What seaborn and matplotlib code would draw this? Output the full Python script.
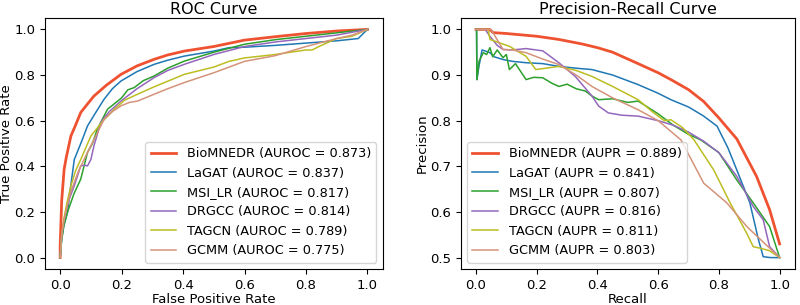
import matplotlib
matplotlib.use("Agg")
import matplotlib.pyplot as plt
import seaborn as sns
import pandas as pd

# model names, scores and colours
models = ["BioMNEDR", "LaGAT", "MSI_LR", "DRGCC", "TAGCN", "GCMM"]
auroc = [0.873, 0.837, 0.817, 0.814, 0.789, 0.775]
aupr = [0.889, 0.841, 0.807, 0.816, 0.811, 0.803]
colors = ["#ef5230", "#1f77b4", "#2ca02c", "#9467bd", "#bcbd22", "#d4937a"]

# ROC curves (fpr, tpr)
roc_fpr = {
    "BioMNEDR": [0, 0.0, 0.005, 0.013, 0.02, 0.035, 0.05, 0.067, 0.09, 0.11, 0.15, 0.198, 0.25, 0.306, 0.35, 0.404, 0.5, 0.6, 0.7, 0.8, 0.9, 1.0],
    "LaGAT": [0, 0.005, 0.012, 0.024, 0.035, 0.046, 0.07, 0.089, 0.12, 0.143, 0.17, 0.198, 0.25, 0.306, 0.35, 0.404, 0.5, 0.55, 0.6, 0.7, 0.8, 0.9, 0.97, 1.0],
    "MSI_LR": [0, 0.005, 0.012, 0.024, 0.045, 0.067, 0.089, 0.105, 0.121, 0.154, 0.2, 0.22, 0.241, 0.27, 0.306, 0.35, 0.404, 0.5, 0.6, 0.7, 0.8, 0.9, 1.0],
    "DRGCC": [0, 0.005, 0.012, 0.025, 0.046, 0.067, 0.078, 0.089, 0.1, 0.11, 0.132, 0.16, 0.198, 0.25, 0.306, 0.35, 0.404, 0.5, 0.6, 0.7, 0.8, 0.9, 1.0],
    "TAGCN": [0, 0.005, 0.012, 0.022, 0.035, 0.05, 0.067, 0.1, 0.14, 0.176, 0.21, 0.252, 0.3, 0.404, 0.5, 0.55, 0.6, 0.7, 0.8, 0.82, 0.85, 0.9, 0.95, 1.0],
    "GCMM": [0, 0.005, 0.012, 0.022, 0.035, 0.06, 0.089, 0.115, 0.143, 0.17, 0.198, 0.225, 0.252, 0.306, 0.35, 0.404, 0.5, 0.6, 0.7, 0.8, 0.9, 0.95, 1.0],
}
roc_tpr = {
    "BioMNEDR": [0, 0.05, 0.25, 0.388, 0.44, 0.533, 0.58, 0.636, 0.675, 0.708, 0.755, 0.803, 0.84, 0.869, 0.888, 0.905, 0.925, 0.953, 0.968, 0.982, 0.993, 1.0],
    "LaGAT": [0, 0.08, 0.14, 0.2, 0.32, 0.43, 0.51, 0.577, 0.645, 0.694, 0.74, 0.774, 0.815, 0.847, 0.865, 0.883, 0.905, 0.92, 0.922, 0.93, 0.94, 0.95, 0.96, 1.0],
    "MSI_LR": [0, 0.08, 0.14, 0.2, 0.28, 0.344, 0.461, 0.5, 0.563, 0.65, 0.7, 0.735, 0.745, 0.775, 0.796, 0.83, 0.861, 0.9, 0.935, 0.955, 0.97, 0.985, 1.0],
    "DRGCC": [0, 0.1, 0.16, 0.24, 0.315, 0.402, 0.405, 0.402, 0.43, 0.49, 0.592, 0.64, 0.686, 0.74, 0.789, 0.82, 0.847, 0.89, 0.925, 0.945, 0.96, 0.975, 1.0],
    "TAGCN": [0, 0.1, 0.17, 0.24, 0.315, 0.38, 0.43, 0.533, 0.6, 0.65, 0.69, 0.716, 0.745, 0.803, 0.835, 0.86, 0.875, 0.89, 0.91, 0.91, 0.93, 0.96, 0.97, 1.0],
    "GCMM": [0, 0.1, 0.16, 0.22, 0.29, 0.38, 0.461, 0.53, 0.606, 0.64, 0.665, 0.68, 0.686, 0.716, 0.74, 0.767, 0.81, 0.86, 0.885, 0.925, 0.96, 0.975, 1.0],
}

# precision-recall curves (recall, precision)
pr_rec = {
    "BioMNEDR": [0, 0.045, 0.056, 0.1, 0.2, 0.273, 0.35, 0.4, 0.45, 0.534, 0.6, 0.642, 0.7, 0.75, 0.8, 0.859, 0.924, 0.967, 1.0],
    "LaGAT": [0, 0.002, 0.003, 0.01, 0.02, 0.046, 0.06, 0.089, 0.12, 0.165, 0.22, 0.273, 0.33, 0.382, 0.45, 0.534, 0.6, 0.642, 0.7, 0.75, 0.794, 0.83, 0.859, 0.902, 0.93, 0.946, 0.97, 1.0],
    "MSI_LR": [0, 0.002, 0.003, 0.01, 0.024, 0.035, 0.046, 0.055, 0.07, 0.089, 0.1, 0.11, 0.13, 0.15, 0.165, 0.19, 0.22, 0.25, 0.273, 0.3, 0.33, 0.36, 0.382, 0.404, 0.45, 0.5, 0.534, 0.6, 0.65, 0.7, 0.74, 0.8, 0.859, 0.913, 0.967, 1.0],
    "DRGCC": [0, 0.03, 0.046, 0.07, 0.089, 0.12, 0.165, 0.22, 0.273, 0.327, 0.382, 0.404, 0.436, 0.48, 0.534, 0.6, 0.65, 0.7, 0.75, 0.8, 0.859, 0.913, 0.946, 0.967, 1.0],
    "TAGCN": [0, 0.04, 0.046, 0.08, 0.11, 0.165, 0.197, 0.23, 0.273, 0.33, 0.382, 0.45, 0.534, 0.58, 0.62, 0.642, 0.68, 0.718, 0.783, 0.837, 0.892, 0.913, 0.94, 0.967, 1.0],
    "GCMM": [0, 0.05, 0.056, 0.089, 0.12, 0.165, 0.22, 0.273, 0.33, 0.382, 0.45, 0.534, 0.6, 0.675, 0.75, 0.826, 0.892, 1.0],
}
pr_prec = {
    "BioMNEDR": [1.0, 1.0, 0.993, 0.991, 0.985, 0.978, 0.968, 0.96, 0.95, 0.925, 0.905, 0.89, 0.868, 0.842, 0.806, 0.76, 0.678, 0.605, 0.53],
    "LaGAT": [1.0, 1.0, 0.89, 0.92, 0.955, 0.949, 0.94, 0.934, 0.93, 0.927, 0.925, 0.919, 0.915, 0.912, 0.9, 0.879, 0.86, 0.846, 0.83, 0.81, 0.788, 0.74, 0.692, 0.62, 0.54, 0.502, 0.5, 0.5],
    "MSI_LR": [1.0, 1.0, 0.89, 0.93, 0.949, 0.945, 0.96, 0.94, 0.955, 0.938, 0.945, 0.912, 0.925, 0.905, 0.89, 0.895, 0.894, 0.882, 0.875, 0.88, 0.87, 0.865, 0.854, 0.846, 0.848, 0.84, 0.843, 0.815, 0.79, 0.77, 0.758, 0.73, 0.67, 0.62, 0.568, 0.5],
    "DRGCC": [1.0, 1.0, 0.985, 0.965, 0.956, 0.955, 0.958, 0.953, 0.927, 0.897, 0.854, 0.832, 0.817, 0.812, 0.81, 0.8, 0.79, 0.775, 0.755, 0.73, 0.678, 0.612, 0.583, 0.524, 0.5],
    "TAGCN": [1.0, 1.0, 0.978, 0.97, 0.963, 0.941, 0.912, 0.915, 0.919, 0.91, 0.897, 0.875, 0.846, 0.82, 0.8, 0.802, 0.785, 0.758, 0.692, 0.62, 0.553, 0.524, 0.52, 0.515, 0.5],
    "GCMM": [1.0, 1.0, 0.993, 0.956, 0.955, 0.949, 0.935, 0.923, 0.9, 0.875, 0.85, 0.824, 0.8, 0.758, 0.663, 0.62, 0.568, 0.5],
}

rows = []
for m in models:
    for x, y in zip(roc_fpr[m], roc_tpr[m]):
        rows.append({"curve": "roc", "model": m, "x": x, "y": y})
    for x, y in zip(pr_rec[m], pr_prec[m]):
        rows.append({"curve": "pr", "model": m, "x": x, "y": y})
df = pd.DataFrame(rows)

plt.rcParams["font.size"] = 9.5
fig = plt.figure(figsize=(8, 3.05), dpi=100)
ax1 = fig.add_axes([0.056, 0.118, 0.4225, 0.823])
ax2 = fig.add_axes([0.576, 0.118, 0.4175, 0.823])

for i, m in enumerate(models):
    lw = 2 if m == "BioMNEDR" else 1.1
    d = df[(df.curve == "roc") & (df.model == m)]
    sns.lineplot(data=d, x="x", y="y", ax=ax1, color=colors[i], linewidth=lw,
                 estimator=None, sort=False, label=f"{m} (AUROC = {auroc[i]:.3f})")
    d = df[(df.curve == "pr") & (df.model == m)]
    sns.lineplot(data=d, x="x", y="y", ax=ax2, color=colors[i], linewidth=lw,
                 estimator=None, sort=False, label=f"{m} (AUPR = {aupr[i]:.3f})")

ax1.set_title("ROC Curve", fontsize=11.5, pad=3)
ax1.set_xlabel("False Positive Rate", labelpad=1)
ax1.set_ylabel("True Positive Rate", labelpad=1)
ax1.set_xlim(-0.05, 1.05)
ax1.set_ylim(-0.05, 1.05)
ax1.legend(loc="lower right", fontsize=9.3)

ax2.set_title("Precision-Recall Curve", fontsize=11.5, pad=3)
ax2.set_xlabel("Recall", labelpad=1)
ax2.set_ylabel("Precision", labelpad=1)
ax2.set_xlim(-0.05, 1.05)
ax2.set_ylim(0.475, 1.025)
ax2.set_yticks([0.5, 0.6, 0.7, 0.8, 0.9, 1.0])
ax2.legend(loc="lower left", fontsize=9.3)

fig.savefig("out.png", dpi=100)
